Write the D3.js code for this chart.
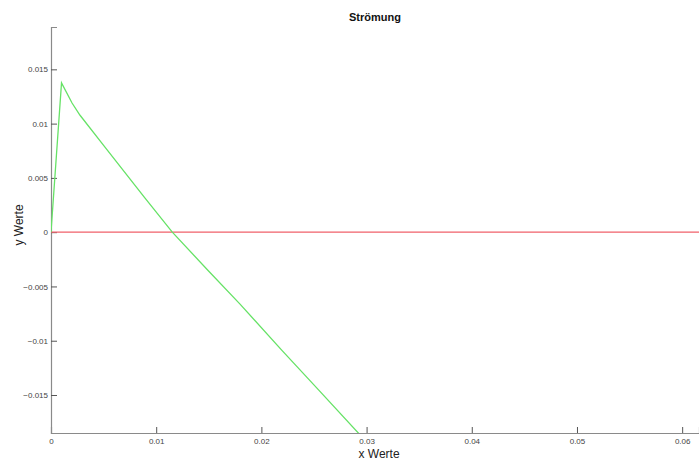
<!DOCTYPE html>
<html>
<head>
<meta charset="utf-8">
<script src="https://cdn.jsdelivr.net/npm/d3@7"></script>
<style>
html,body{margin:0;padding:0;background:#fff;}
svg{display:block;font-family:"Liberation Sans",Arial,sans-serif;}
</style>
</head>
<body>
<svg id="chart" width="699" height="460"></svg>
<script>
// Data
const title = "Strömung";
const xLabel = "x Werte";
const yLabel = "y Werte";
const xDomain = [0, 0.0616];
const yDomain = [-0.0185, 0.0189];
const xTicks = [0, 0.01, 0.02, 0.03, 0.04, 0.05, 0.06];
const yTicks = [-0.015, -0.01, -0.005, 0, 0.005, 0.01, 0.015];
const flowX = [0, 0.001, 0.002, 0.00276, 0.005, 0.00894, 0.01153, 0.015, 0.01797, 0.02193, 0.0255, 0.0295];
const flowY = [0, 0.01375, 0.0119, 0.01077, 0.0080, 0.00313, 0, -0.0036, -0.00663, -0.01087, -0.0146, -0.0188];
const baseX = [0, 0.0616];
const baseY = [0, 0];

const svg = d3.select("#chart");
const m = {left: 51, right: 0, top: 27, bottom: 27};
const W = 699, H = 460;
const x = d3.scaleLinear().domain(xDomain).range([m.left, W - m.right]);
const y = d3.scaleLinear().domain(yDomain).range([H - m.bottom, m.top]);

svg.append("defs").append("clipPath").attr("id", "clip")
  .append("rect").attr("x", m.left).attr("y", m.top)
  .attr("width", W - m.right - m.left).attr("height", H - m.bottom - m.top);

const fmt = d => d === 0 ? "0" : d3.format("")(+d.toFixed(3));

const xAxis = svg.append("g")
  .attr("transform", `translate(0,${H - m.bottom})`)
  .call(d3.axisBottom(x).tickValues(xTicks).tickSize(-6).tickPadding(5).tickFormat(fmt));
const yAxis = svg.append("g")
  .attr("transform", `translate(${m.left},0)`)
  .call(d3.axisLeft(y).tickValues(yTicks).tickSize(-6).tickPadding(3).tickFormat(fmt));

[xAxis, yAxis].forEach(g => {
  g.select(".domain").attr("stroke", "#8a8a8a").attr("stroke-width", 1.2);
  g.selectAll(".tick line").attr("stroke", "#555");
  g.selectAll(".tick text").attr("fill", "#444").attr("font-size", "8px")
   .attr("font-family", "'Liberation Sans',Arial,sans-serif");
});

const line = d3.line().x(d => x(d[0])).y(d => y(d[1]));
const plot = svg.append("g").attr("clip-path", "url(#clip)");

plot.append("path")
  .datum(baseX.map((v, i) => [v, baseY[i]]))
  .attr("d", line).attr("fill", "none")
  .attr("stroke", "#f0606a").attr("stroke-width", 1.3);

plot.append("path")
  .datum(flowX.map((v, i) => [v, flowY[i]]))
  .attr("d", line).attr("fill", "none")
  .attr("stroke", "#66e266").attr("stroke-width", 1.3);

svg.append("text").attr("x", (m.left + W) / 2).attr("y", 21)
  .attr("text-anchor", "middle").attr("font-size", "11px").attr("font-weight", "bold")
  .attr("fill", "#111").text(title);

svg.append("text").attr("x", (m.left + W) / 2 + 4).attr("y", 458)
  .attr("text-anchor", "middle").attr("font-size", "12px").attr("fill", "#222").text(xLabel);

svg.append("text").attr("transform", `translate(23,${(m.top + H - m.bottom) / 2 - 5}) rotate(-90)`)
  .attr("text-anchor", "middle").attr("font-size", "12px").attr("fill", "#222").text(yLabel);
</script>
</body>
</html>
